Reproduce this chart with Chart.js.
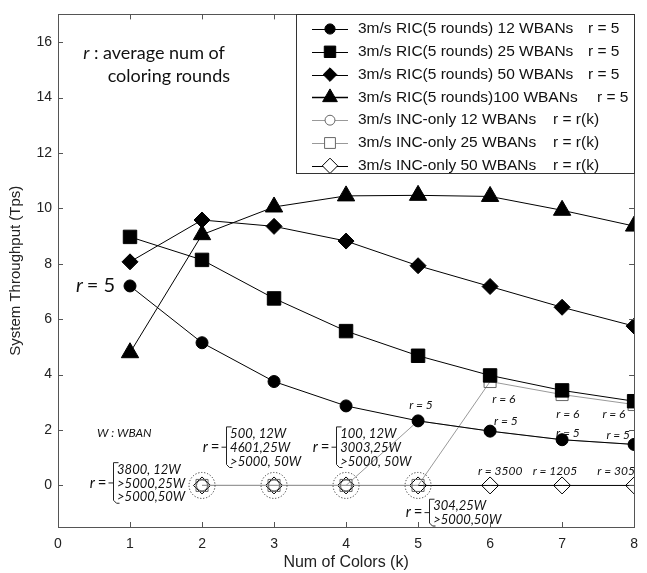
<!DOCTYPE html>
<html>
<head>
<meta charset="utf-8">
<script src="https://cdn.jsdelivr.net/npm/chart.js@4.4.1/dist/chart.umd.min.js"></script>
<style>
  html, body { margin: 0; padding: 0; background: #fff; }
  #wrap { width: 647px; height: 573px; }
</style>
</head>
<body>
<div id="wrap"><canvas id="myChart" width="647" height="573"></canvas></div>
<script>
// x = number of colors (k)
const kAll = [1, 2, 3, 4, 5, 6, 7, 8];
const kInc = [2, 3, 4, 5, 6, 7, 8];

// RIC (5 rounds), r = 5
const ric12 = [7.2, 5.15, 3.75, 2.87, 2.33, 1.96, 1.65, 1.48];
const ric25 = [8.97, 8.14, 6.75, 5.57, 4.68, 3.97, 3.43, 3.04];
const ric50 = [8.07, 9.58, 9.35, 8.82, 7.93, 7.18, 6.43, 5.75];
const ric100 = [4.79, 9.05, 10.05, 10.45, 10.47, 10.43, 9.93, 9.36];

// INC-only, r = r(k)
const inc12 = [0, 0, 0, 2.33, 1.96, 1.65, 1.48];
const inc25 = [0, 0, 0, 0, 3.75, 3.28, 2.92];
const inc50 = [0, 0, 0, 0, 0, 0, 0];

const xTicks = [0, 1, 2, 3, 4, 5, 6, 7, 8];
const yTicks = [0, 2, 4, 6, 8, 10, 12, 14, 16];

const legendLabels = [
    "3m/s RIC(5 rounds) 12 WBANs",
    "3m/s RIC(5 rounds) 25 WBANs",
    "3m/s RIC(5 rounds) 50 WBANs",
    "3m/s RIC(5 rounds)100 WBANs",
    "3m/s INC-only 12 WBANs",
    "3m/s INC-only 25 WBANs",
    "3m/s INC-only 50 WBANs",
];
const legendR = ["r = 5", "r = 5", "r = 5", "r = 5", "r = r(k)", "r = r(k)", "r = r(k)"];

// k where the INC curves still sit at zero (circled)
const circledK = [2, 3, 4, 5];

// small r labels: [k, y, text]
const rLabels = [
    [5.04, 2.89, "r = 5"],
    [6.19, 3.11, "r = 6"],
    [6.22, 2.32, "r = 5"],
    [7.08, 2.57, "r = 6"],
    [7.08, 1.89, "r = 5"],
    [7.72, 2.57, "r = 6"],
    [7.78, 1.82, "r = 5"],
    [6.14, 0.5, "r = 3500"],
    [6.9, 0.5, "r = 1205"],
    [7.75, 0.5, "r = 305"],
];

// bracket notes: [k, first line y, lines]
const brackets = [
    [0.82, 0.57, ["3800, 12W", ">5000,25W", ">5000,50W"]],
    [2.39, 1.86, ["500, 12W", "4601,25W", ">5000, 50W"]],
    [3.92, 1.86, ["100, 12W", "3003,25W", ">5000, 50W"]],
    [5.21, -0.75, ["304,25W", ">5000,50W"]],
];

const pts = (xs, ys) => xs.map((k, i) => ({ x: k, y: ys[i] }));

function line(label, xs, ys, style, radius, fill, color) {
    return {
        label: label,
        data: pts(xs, ys),
        borderColor: color,
        borderWidth: 1,
        pointStyle: style,
        pointRadius: radius,
        pointHoverRadius: radius,
        pointBackgroundColor: fill,
        pointBorderColor: color == "#999" ? "#666" : "#000",
        pointBorderWidth: 1,
        tension: 0,
    };
}

function marker(ctx, style, x, y, r, fill, stroke) {
    ctx.beginPath();
    if (style == "circle") {
        ctx.arc(x, y, r, 0, Math.PI * 2);
    } else if (style == "rect") {
        const s = r * Math.SQRT1_2;
        ctx.rect(x - s, y - s, 2 * s, 2 * s);
    } else if (style == "rectRot") {
        ctx.moveTo(x, y - r);
        ctx.lineTo(x + r, y);
        ctx.lineTo(x, y + r);
        ctx.lineTo(x - r, y);
        ctx.closePath();
    } else if (style == "triangle") {
        ctx.moveTo(x, y - r);
        ctx.lineTo(x + r * 0.866, y + r * 0.5);
        ctx.lineTo(x - r * 0.866, y + r * 0.5);
        ctx.closePath();
    }
    if (fill) {
        ctx.fillStyle = fill;
        ctx.fill();
    }
    ctx.strokeStyle = stroke;
    ctx.lineWidth = 1;
    ctx.stroke();
}

const frame = {
    id: "frame",
    afterDraw(chart) {
        const { ctx, chartArea: a, scales } = chart;
        ctx.save();
        ctx.strokeStyle = "#555";
        ctx.lineWidth = 1;
        ctx.strokeRect(Math.round(a.left) + 0.5, Math.round(a.top) + 0.5,
            Math.round(a.right - a.left), Math.round(a.bottom - a.top));
        ctx.beginPath();
        xTicks.forEach((v) => {
            const px = Math.round(scales.x.getPixelForValue(v)) + 0.5;
            ctx.moveTo(px, a.bottom);
            ctx.lineTo(px, a.bottom - 5);
            ctx.moveTo(px, a.top);
            ctx.lineTo(px, a.top + 5);
        });
        yTicks.forEach((v) => {
            const py = Math.round(scales.y.getPixelForValue(v)) + 0.5;
            ctx.moveTo(a.left, py);
            ctx.lineTo(a.left + 5, py);
            ctx.moveTo(a.right, py);
            ctx.lineTo(a.right - 5, py);
        });
        ctx.stroke();
        ctx.restore();
    },
};

const notes = {
    id: "notes",
    afterDatasetsDraw(chart) {
        const { ctx, scales } = chart;
        const px = (v) => scales.x.getPixelForValue(v);
        const py = (v) => scales.y.getPixelForValue(v);
        ctx.save();

        // dotted circles round the zero points
        ctx.strokeStyle = "#333";
        ctx.setLineDash([1.2, 1.8]);
        circledK.forEach((k) => {
            ctx.beginPath();
            ctx.arc(px(k), py(0), 13, 0, Math.PI * 2);
            ctx.stroke();
        });
        ctx.setLineDash([]);

        ctx.fillStyle = "#111";
        ctx.textBaseline = "middle";

        // r : average num of coloring rounds
        ctx.font = "italic 18px Lato";
        ctx.textAlign = "left";
        const x0 = px(0.35);
        ctx.fillText("r", x0, py(15.6));
        const w = ctx.measureText("r").width;
        ctx.font = "18px Lato";
        ctx.fillText(" : average num of", x0 + w, py(15.6));
        ctx.fillText("coloring rounds", px(0.69), py(14.78));

        // r = 5 next to the first point
        ctx.font = "italic 20px Lato";
        ctx.fillText("r", px(0.25), py(7.2));
        ctx.font = "20px Lato";
        ctx.fillText("= 5", px(0.4), py(7.2));

        ctx.font = "italic 12px Lato";
        ctx.fillText("W : WBAN", px(0.54), py(1.9));

        ctx.font = "italic 12px Lato";
        ctx.textAlign = "center";
        rLabels.forEach(([k, v, t]) => ctx.fillText(t, px(k), py(v)));

        // bracket notes
        ctx.strokeStyle = "#222";
        ctx.lineWidth = 1;
        brackets.forEach(([k, v, lines]) => {
            const tx = px(k);
            const ys = lines.map((s, i) => py(v) + i * 13.8);
            ctx.font = "italic 13px Lato";
            ctx.textAlign = "left";
            lines.forEach((s, i) => ctx.fillText(s, tx, ys[i]));
            const bx = Math.round(tx - 4) + 0.5;
            const top = ys[0] - 7;
            const bot = ys[ys.length - 1] + 6;
            const mid = (top + bot) / 2;
            ctx.beginPath();
            ctx.moveTo(bx + 5, top);
            ctx.lineTo(bx, top);
            ctx.lineTo(bx, bot - 3);
            ctx.lineTo(bx + 3, bot);
            ctx.lineTo(bx + 6, bot);
            ctx.moveTo(bx, mid);
            ctx.lineTo(bx - 5, mid);
            ctx.stroke();
            ctx.textAlign = "right";
            ctx.font = "15px Lato";
            ctx.fillText("=", bx - 7, mid);
            const we = ctx.measureText("=").width;
            ctx.font = "italic 15px Lato";
            ctx.fillText("r", bx - 10 - we, mid);
        });
        ctx.restore();
    },
};

const legendBox = {
    id: "legendBox",
    afterDraw(chart) {
        const { ctx, chartArea: a } = chart;
        const left = 296, top = Math.round(a.top), right = Math.round(a.right), bottom = 173;
        ctx.save();
        ctx.fillStyle = "#fff";
        ctx.fillRect(left, top, right - left, bottom - top);
        ctx.strokeStyle = "#333";
        ctx.lineWidth = 1;
        ctx.strokeRect(left + 0.5, top + 0.5, right - left, bottom - top);
        const sets = chart.data.datasets;
        ctx.font = "15.5px 'Liberation Sans'";
        ctx.textBaseline = "middle";
        ctx.textAlign = "left";
        const rx = [292, 292, 292, 301, 257, 257, 257];
        sets.forEach((ds, i) => {
            const y = top + 15 + i * 22.8;
            ctx.strokeStyle = ds.borderColor;
            ctx.lineWidth = i == 3 ? 1.5 : 1;
            ctx.beginPath();
            ctx.moveTo(left + 16, Math.round(y) + 0.5);
            ctx.lineTo(left + 52, Math.round(y) + 0.5);
            ctx.stroke();
            const r = ds.pointRadius * (i < 4 ? 0.85 : 0.9);
            marker(ctx, ds.pointStyle, left + 34, y, r,
                ds.pointBackgroundColor == "transparent" ? "#fff" : ds.pointBackgroundColor,
                ds.pointBorderColor);
            ctx.fillStyle = "#111";
            ctx.fillText(legendLabels[i], left + 62, y);
            ctx.fillText(legendR[i], left + rx[i], y);
        });
        ctx.restore();
    },
};

Chart.defaults.font.family = "'Liberation Sans', Arial, sans-serif";
Chart.defaults.color = "#222";

const config = {
    type: "line",
    data: {
        datasets: [
            line(legendLabels[0], kAll, ric12, "circle", 6, "#000", "#000"),
            line(legendLabels[1], kAll, ric25, "rect", 9.5, "#000", "#000"),
            line(legendLabels[2], kAll, ric50, "rectRot", 8, "#000", "#000"),
            line(legendLabels[3], kAll, ric100, "triangle", 10, "#000", "#000"),
            line(legendLabels[4], kInc, inc12, "circle", 5.5, "transparent", "#999"),
            line(legendLabels[5], kInc, inc25, "rect", 8.5, "transparent", "#999"),
            line(legendLabels[6], kInc, inc50, "rectRot", 8.5, "transparent", "#000"),
        ],
    },
    options: {
        responsive: false,
        animation: false,
        devicePixelRatio: 1,
        layout: { padding: { top: 7, right: 12, bottom: 0, left: 0 } },
        plugins: {
            legend: { display: false },
            tooltip: { enabled: false },
        },
        scales: {
            x: {
                type: "linear",
                min: 0,
                max: 8,
                afterBuildTicks: (s) => { s.ticks = xTicks.map((v) => ({ value: v })); },
                afterFit: (s) => { s.height = 46; },
                grid: { display: false, drawTicks: false },
                border: { display: false },
                ticks: { padding: 9, font: { size: 14 }, color: "#222" },
                title: {
                    display: true,
                    text: "Num of Colors (k)",
                    font: { size: 16 },
                    color: "#222",
                    padding: { top: 0, bottom: 1 },
                },
            },
            y: {
                min: -1.5,
                max: 17,
                afterBuildTicks: (s) => { s.ticks = yTicks.map((v) => ({ value: v })); },
                afterFit: (s) => { s.width = 58; },
                grid: { display: false, drawTicks: false },
                border: { display: false },
                ticks: { padding: 6, font: { size: 14 }, color: "#222" },
                title: {
                    display: true,
                    text: "System Throughput (Tps)",
                    font: { size: 15 },
                    color: "#222",
                    padding: { top: 7, bottom: 0 },
                },
            },
        },
    },
    plugins: [frame, notes, legendBox],
};

new Chart(document.getElementById("myChart"), config);
</script>
</body>
</html>
